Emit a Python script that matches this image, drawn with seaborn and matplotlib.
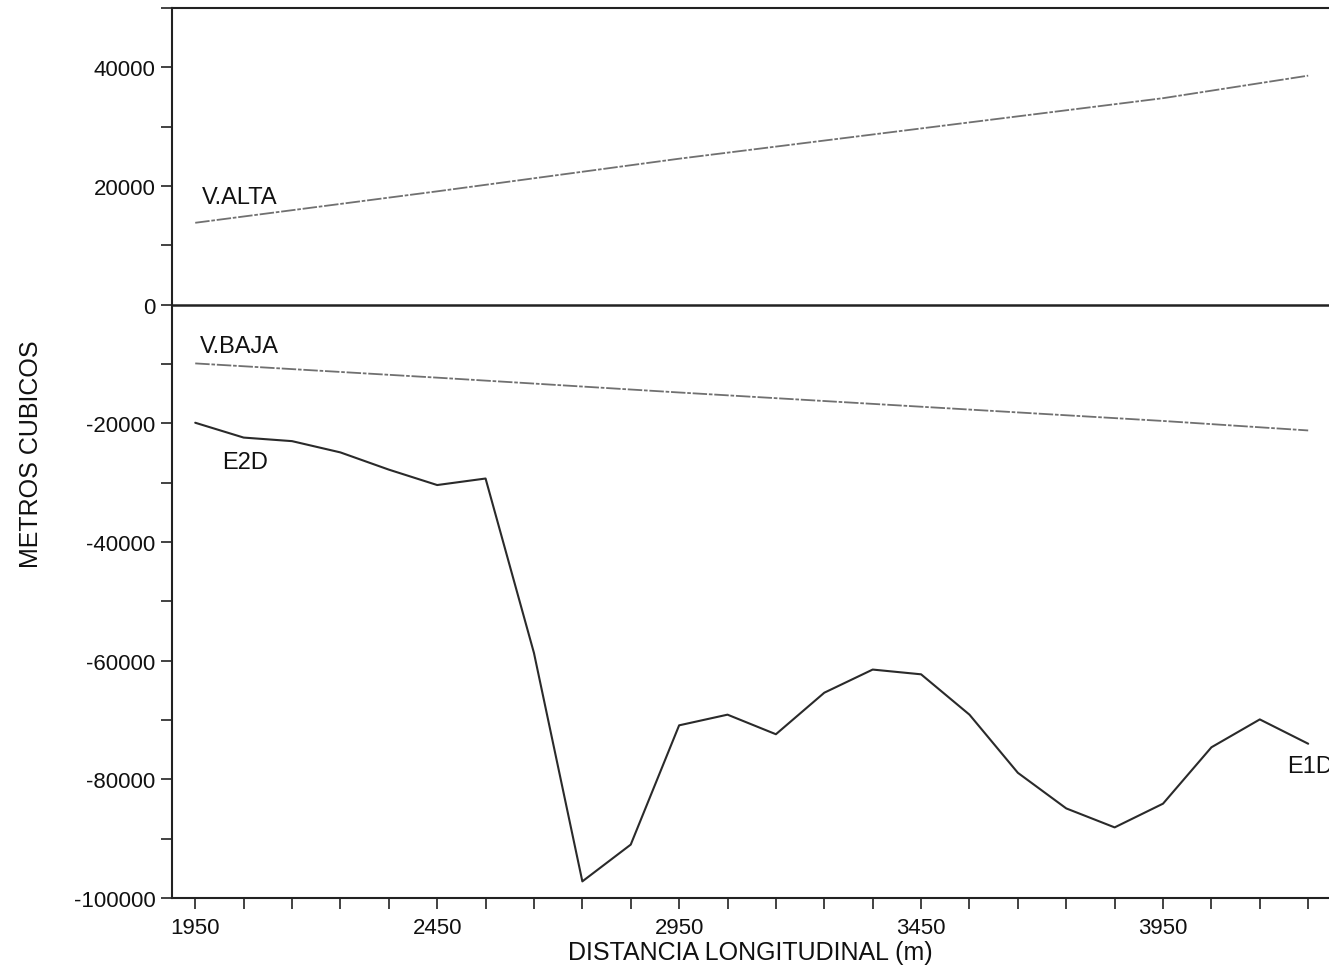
import matplotlib
matplotlib.use("Agg")
import matplotlib.pyplot as plt
from matplotlib.ticker import MultipleLocator
import seaborn as sns

# stations along the road (m)
stations = [1950, 2050, 2150, 2250, 2350, 2450, 2550, 2650, 2750, 2850, 2950, 3050,
            3150, 3250, 3350, 3450, 3550, 3650, 3750, 3850, 3950, 4050, 4150, 4250]

# E2D mass curve (m3)
e2d = [-19900, -22400, -23000, -24900, -27800, -30400, -29300, -58700, -97200, -91000,
       -70900, -69100, -72400, -65400, -61500, -62300, -69100, -78900, -84900, -88100,
       -84100, -74600, -69900, -74000]

# reference volumes (straight lines)
vol_x = [1950, 2450, 2950, 3450, 3950, 4250]
v_alta = [13800, 19100, 24600, 29700, 34800, 38600]
v_baja = [-9900, -12300, -14800, -17200, -19600, -21200]

x_major = [1950, 2450, 2950, 3450, 3950]
y_major = [-100000, -80000, -60000, -40000, -20000, 0, 20000, 40000]

sns.set_theme(style="ticks")
plt.rcParams["font.family"] = ["Liberation Sans", "DejaVu Sans"]
plt.rcParams["axes.unicode_minus"] = False

fig = plt.figure(figsize=(13.29, 9.78), dpi=100)
ax = fig.add_axes([172 / 1329, 1 - 899 / 978, 1 - 172 / 1329, 890 / 978])

sns.lineplot(x=stations, y=e2d, ax=ax, color="#2a2a2a", lw=1.5)
sns.lineplot(x=vol_x, y=v_alta, ax=ax, color="#707070", lw=1.3, linestyle=(0, (8, 1, 2, 1)))
sns.lineplot(x=vol_x, y=v_baja, ax=ax, color="#707070", lw=1.3, linestyle=(0, (8, 1, 2, 1)))

# zero line
ax.axhline(0, color="#222222", lw=1.8)

ax.set_xlim(1902, 4293)
ax.set_ylim(-100000, 50000)
ax.set_xticks(x_major)
ax.xaxis.set_minor_locator(MultipleLocator(100, offset=50))
ax.set_yticks(y_major)
ax.yaxis.set_minor_locator(MultipleLocator(10000))

ax.tick_params(axis="both", which="both", direction="out", length=8, width=1.2,
               color="#222222", labelsize=16, labelcolor="#111111")
ax.tick_params(axis="y", pad=4)
ax.tick_params(axis="x", pad=6)

for side in ["left", "top", "bottom"]:
    ax.spines[side].set_linewidth(1.5)
    ax.spines[side].set_color("#222222")
ax.spines["right"].set_visible(False)

ax.set_xlabel("DISTANCIA LONGITUDINAL (m)", fontsize=18, color="#111111", labelpad=1)
ax.set_ylabel("METROS CUBICOS", fontsize=18, color="#111111", labelpad=22)

lab = dict(fontsize=17, color="#111111", va="center", ha="left")
ax.text(1964, 18200, "V.ALTA", **lab)
ax.text(1960, -6900, "V.BAJA", **lab)
ax.text(2006, -26600, "E2D", **lab)
# label runs off the right edge, as in the source scan
ax.text(4206, -77800, "E1D", **lab)

fig.savefig("out.png", dpi=100)
